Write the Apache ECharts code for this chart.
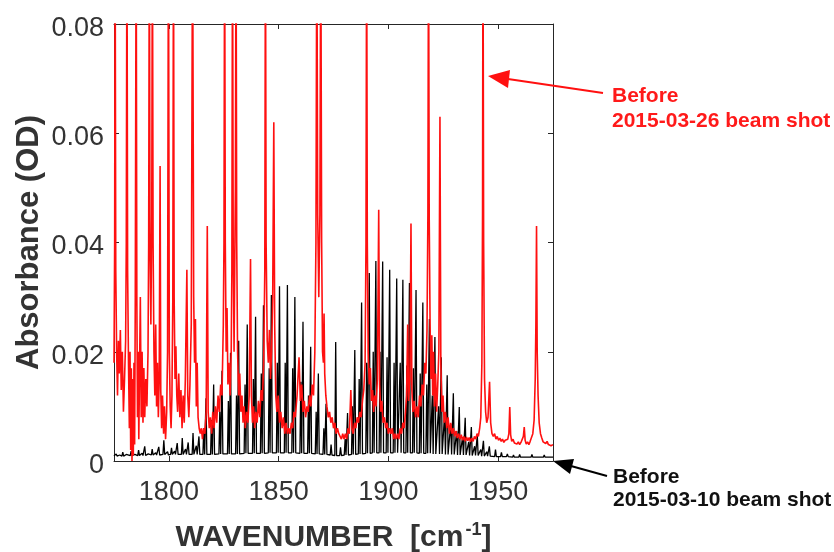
<!DOCTYPE html>
<html>
<head>
<meta charset="utf-8">
<script src="https://cdn.jsdelivr.net/npm/echarts@6/dist/echarts.min.js"></script>
<style>
  html, body { margin: 0; padding: 0; background: #fff; }
  #chart { width: 834px; height: 552px; }
</style>
</head>
<body>
<div id="chart"></div>
<script>
// Axis ticks
const xTicks = [1800, 1850, 1900, 1950];
const yTicks = [0, 0.02, 0.04, 0.06, 0.08];

// Earlier spectrum (2015-03-10): rotational lines as [wavenumber, peak, floor]
const blackLines = [
  [1775.4,0.0010,0.0009],[1776.0,0.0013,0.0009],[1777.6,0.0011,0.0009],[1779.0,0.0016,0.0009],
  [1780.6,0.0012,0.0009],[1782.8,0.0018,0.0010],[1784.5,0.0012,0.0009],[1786.2,0.0020,0.0010],
  [1787.8,0.0014,0.0010],[1789.0,0.0027,0.0010],[1790.6,0.0013,0.0010],[1792.4,0.0022,0.0011],
  [1794.0,0.0015,0.0011],[1795.4,0.0026,0.0011],[1797.7,0.0038,0.0012],[1799.4,0.0017,0.0011],
  [1801.2,0.0024,0.0012],[1802.6,0.0018,0.0012],[1803.8,0.0033,0.0012],[1806.1,0.0042,0.0012],
  [1807.6,0.0022,0.0012],[1808.8,0.0034,0.0012],[1811.0,0.0051,0.0012],[1812.5,0.0028,0.0012],
  [1813.7,0.0045,0.0012],[1815.9,0.0060,0.0012],[1816.9,0.0115,0.0012],[1819.4,0.0075,0.0012],
  [1820.4,0.0140,0.0012],[1823.2,0.0090,0.0013],[1824.2,0.0165,0.0013],[1827.1,0.0110,0.0013],
  [1828.1,0.0198,0.0013],[1830.8,0.0120,0.0013],[1831.8,0.0220,0.0013],[1834.7,0.0140,0.0014],
  [1835.7,0.0250,0.0014],[1838.5,0.0150,0.0014],[1839.5,0.0264,0.0014],[1842.1,0.0160,0.0014],
  [1843.1,0.0285,0.0014],[1845.7,0.0170,0.0015],[1846.7,0.0304,0.0015],[1849.4,0.0180,0.0015],
  [1850.4,0.0320,0.0015],[1853.0,0.0180,0.0015],[1854.0,0.0322,0.0015],[1856.4,0.0170,0.0015],
  [1857.4,0.0300,0.0015],[1860.1,0.0145,0.0014],[1861.1,0.0255,0.0014],[1863.6,0.0120,0.0014],
  [1864.6,0.0209,0.0014],[1867.1,0.0090,0.0013],[1868.1,0.0160,0.0013],[1870.6,0.0060,0.0012],
  [1871.6,0.0105,0.0012],[1873.9,0.0030,0.0011],[1876.0,0.0218,0.0010],[1878.2,0.0025,0.0010],
  [1880.3,0.0040,0.0011],[1881.4,0.0088,0.0011],[1883.6,0.0100,0.0012],[1884.7,0.0203,0.0012],
  [1886.7,0.0150,0.0013],[1887.8,0.0290,0.0013],[1890.1,0.0180,0.0014],[1891.3,0.0344,0.0014],
  [1893.1,0.0200,0.0015],[1894.3,0.0366,0.0015],[1896.2,0.0200,0.0015],[1897.4,0.0365,0.0015],
  [1899.4,0.0190,0.0015],[1900.6,0.0350,0.0015],[1902.6,0.0180,0.0015],[1903.8,0.0334,0.0015],
  [1905.4,0.0180,0.0015],[1906.6,0.0332,0.0015],[1908.4,0.0175,0.0015],[1909.6,0.0326,0.0015],
  [1911.4,0.0170,0.0015],[1912.6,0.0313,0.0015],[1914.5,0.0160,0.0014],[1915.7,0.0290,0.0014],
  [1917.5,0.0140,0.0014],[1918.7,0.0260,0.0014],[1920.0,0.0120,0.0013],[1921.2,0.0227,0.0013],
  [1922.9,0.0100,0.0013],[1924.1,0.0190,0.0013],[1925.6,0.0085,0.0012],[1926.8,0.0157,0.0012],
  [1928.4,0.0068,0.0012],[1929.6,0.0124,0.0012],[1931.1,0.0055,0.0011],[1932.3,0.0099,0.0011],
  [1933.8,0.0044,0.0011],[1935.0,0.0079,0.0011],[1936.6,0.0035,0.0010],[1937.8,0.0062,0.0010],
  [1939.3,0.0027,0.0010],[1940.5,0.0048,0.0010],[1942.1,0.0021,0.0009],[1943.3,0.0037,0.0009],
  [1944.8,0.0017,0.0009],[1946.0,0.0027,0.0009],[1948.8,0.0021,0.0008],[1951.5,0.0016,0.0008],
  [1954.2,0.0013,0.0008],[1957.0,0.0011,0.0007],[1959.8,0.0012,0.0007],[1962.6,0.0010,0.0007],
  [1965.4,0.0012,0.0007],[1968.2,0.0010,0.0007],[1971.0,0.0011,0.0007],[1973.8,0.0010,0.0007],
  [1974.6,0.0007,0.0007]
];

// Later spectrum (2015-03-26): trace as [wavenumber, absorbance]; strong water lines run off scale
const redTrace = [
  [1775.0,0.018],[1775.3,0.040],[1775.5,0.100],[1775.8,0.035],[1776.2,0.020],[1776.6,0.012],[1777.0,0.022],
  [1777.4,0.016],[1777.9,0.024],[1778.3,0.013],[1778.8,0.020],[1779.3,0.009],[1779.8,0.015],[1780.3,0.022],
  [1780.6,0.040],[1780.9,0.100],[1781.2,0.035],[1781.6,0.018],[1782.0,0.006],[1782.3,0.020],[1782.6,0.002],
  [1782.9,0.017],[1783.2,0.000],[1783.5,0.015],[1783.8,0.001],[1784.1,0.018],[1784.4,0.003],[1784.7,0.030],
  [1785.1,0.100],[1785.4,0.030],[1785.7,0.008],[1786.0,0.020],[1786.3,0.004],[1786.6,0.015],[1787.0,0.030],
  [1787.4,0.008],[1787.8,0.020],[1788.2,0.007],[1788.6,0.017],[1789.0,0.008],[1789.5,0.015],[1790.0,0.010],
  [1790.5,0.020],[1790.8,0.040],[1791.1,0.100],[1791.4,0.040],[1791.8,0.025],[1792.2,0.045],[1792.5,0.100],
  [1792.8,0.040],[1793.2,0.020],[1793.6,0.012],[1794.0,0.025],[1794.4,0.010],[1794.8,0.018],[1795.2,0.008],
  [1795.6,0.015],[1796.0,0.054],[1796.3,0.013],[1796.7,0.006],[1797.1,0.012],[1797.6,0.005],[1798.0,0.010],
  [1798.5,0.004],[1799.0,0.009],[1799.4,0.020],[1799.8,0.100],[1800.2,0.020],[1800.6,0.010],[1801.0,0.006],
  [1801.4,0.012],[1801.8,0.030],[1802.1,0.100],[1802.4,0.030],[1802.8,0.015],[1803.2,0.021],[1803.6,0.012],
  [1804.0,0.009],[1804.5,0.016],[1805.0,0.008],[1805.5,0.013],[1806.0,0.006],[1806.5,0.012],[1807.0,0.007],
  [1807.5,0.015],[1808.2,0.035],[1808.6,0.012],[1809.1,0.008],[1809.6,0.014],[1810.2,0.025],[1810.8,0.100],
  [1811.3,0.030],[1811.7,0.018],[1812.1,0.026],[1812.5,0.010],[1812.9,0.018],[1813.3,0.008],[1813.8,0.006],
  [1814.3,0.005],[1814.8,0.006],[1815.3,0.004],[1815.8,0.006],[1816.4,0.005],[1817.0,0.009],[1817.5,0.043],
  [1817.9,0.009],[1818.4,0.006],[1818.9,0.008],[1819.5,0.005],[1820.0,0.009],[1820.6,0.006],[1821.2,0.010],
  [1821.8,0.007],[1822.4,0.012],[1823.0,0.009],[1823.6,0.014],[1824.2,0.012],[1824.8,0.025],[1825.1,0.040],
  [1825.4,0.100],[1825.7,0.040],[1826.1,0.020],[1826.5,0.028],[1826.9,0.014],[1827.4,0.018],[1827.9,0.012],
  [1828.4,0.020],[1828.7,0.035],[1829.0,0.100],[1829.3,0.040],[1829.7,0.020],[1830.0,0.035],[1830.3,0.050],
  [1830.6,0.100],[1830.9,0.040],[1831.3,0.020],[1831.8,0.012],[1832.3,0.016],[1832.8,0.009],[1833.3,0.012],
  [1833.8,0.007],[1834.3,0.010],[1834.8,0.006],[1835.4,0.009],[1836.0,0.007],[1836.6,0.012],[1837.2,0.037],
  [1837.6,0.012],[1838.1,0.007],[1838.6,0.010],[1839.1,0.006],[1839.6,0.009],[1840.2,0.007],[1840.8,0.011],
  [1841.4,0.008],[1842.0,0.013],[1842.6,0.011],[1843.2,0.018],[1843.7,0.035],[1844.0,0.100],[1844.3,0.040],
  [1844.8,0.022],[1845.3,0.018],[1845.8,0.024],[1846.3,0.015],[1846.8,0.020],[1847.3,0.030],[1847.8,0.062],
  [1848.2,0.025],[1848.7,0.012],[1849.2,0.009],[1849.8,0.012],[1850.4,0.007],[1851.0,0.009],[1851.6,0.006],
  [1852.2,0.008],[1852.8,0.005],[1853.4,0.007],[1854.0,0.005],[1854.6,0.006],[1855.2,0.005],[1855.8,0.007],
  [1856.4,0.006],[1857.0,0.009],[1857.6,0.008],[1858.4,0.012],[1859.3,0.019],[1859.9,0.011],[1860.5,0.014],
  [1861.1,0.009],[1861.7,0.011],[1862.3,0.008],[1862.9,0.010],[1863.5,0.009],[1864.1,0.012],[1864.7,0.010],
  [1865.3,0.014],[1865.9,0.012],[1866.5,0.020],[1867.0,0.040],[1867.4,0.100],[1867.8,0.045],[1868.3,0.030],
  [1868.8,0.045],[1869.2,0.100],[1869.6,0.040],[1870.0,0.020],[1870.4,0.018],[1870.7,0.027],[1871.0,0.016],
  [1871.5,0.012],[1872.0,0.010],[1872.6,0.008],[1873.2,0.009],[1873.8,0.007],[1874.4,0.008],[1875.0,0.006],
  [1875.6,0.007],[1876.2,0.005],[1876.8,0.006],[1877.4,0.005],[1878.0,0.005],[1878.6,0.004],[1879.2,0.005],
  [1879.8,0.004],[1880.4,0.005],[1881.0,0.004],[1881.6,0.006],[1882.2,0.005],[1882.9,0.013],[1883.4,0.006],
  [1884.0,0.005],[1884.6,0.007],[1885.2,0.006],[1885.8,0.008],[1886.4,0.007],[1887.0,0.009],[1887.6,0.008],
  [1888.2,0.011],[1888.8,0.013],[1889.4,0.018],[1889.8,0.040],[1890.1,0.100],[1890.4,0.040],[1890.8,0.020],
  [1891.3,0.014],[1891.8,0.017],[1892.3,0.011],[1892.8,0.013],[1893.3,0.009],[1893.8,0.012],[1894.4,0.010],
  [1895.0,0.015],[1895.6,0.046],[1896.0,0.014],[1896.5,0.009],[1897.0,0.011],[1897.6,0.007],[1898.2,0.008],
  [1898.8,0.006],[1899.4,0.007],[1900.0,0.005],[1900.6,0.006],[1901.2,0.005],[1901.8,0.006],[1902.4,0.004],
  [1903.0,0.005],[1903.6,0.004],[1904.2,0.005],[1904.8,0.004],[1905.4,0.006],[1906.0,0.005],[1906.6,0.007],
  [1907.2,0.006],[1907.8,0.009],[1908.3,0.012],[1908.8,0.025],[1909.2,0.011],[1909.8,0.015],[1910.3,0.0435],
  [1910.7,0.013],[1911.2,0.009],[1911.8,0.011],[1912.4,0.008],[1913.0,0.010],[1913.6,0.008],[1914.2,0.012],
  [1914.8,0.010],[1915.4,0.014],[1916.0,0.012],[1916.6,0.018],[1917.1,0.016],[1917.6,0.024],[1918.0,0.045],
  [1918.3,0.100],[1918.6,0.045],[1919.0,0.025],[1919.4,0.015],[1919.8,0.023],[1920.2,0.012],[1920.6,0.020],
  [1921.0,0.010],[1921.5,0.016],[1922.0,0.009],[1922.5,0.014],[1923.0,0.020],[1923.5,0.063],[1923.9,0.018],
  [1924.4,0.009],[1924.9,0.012],[1925.4,0.007],[1926.0,0.009],[1926.6,0.006],[1927.2,0.008],[1927.8,0.005],
  [1928.4,0.007],[1929.0,0.005],[1929.6,0.006],[1930.2,0.0045],[1930.8,0.0055],[1931.4,0.0042],[1932.0,0.005],
  [1932.6,0.004],[1933.2,0.0048],[1933.8,0.0038],[1934.4,0.0045],[1935.0,0.0036],[1935.6,0.0044],[1936.2,0.0037],
  [1936.8,0.0043],[1937.4,0.0035],[1938.0,0.0042],[1938.6,0.0036],[1939.2,0.0045],[1939.8,0.004],[1940.4,0.005],
  [1941.0,0.0045],[1941.6,0.006],[1942.1,0.008],[1942.6,0.018],[1942.9,0.045],[1943.1,0.100],[1943.4,0.040],
  [1943.8,0.015],[1944.3,0.009],[1944.8,0.007],[1945.4,0.008],[1946.1,0.0145],[1946.6,0.007],[1947.2,0.005],
  [1947.8,0.0045],[1948.4,0.005],[1949.0,0.004],[1949.6,0.0045],[1950.2,0.0038],[1950.8,0.0042],[1951.4,0.0036],
  [1952.0,0.004],[1952.6,0.0034],[1953.2,0.0038],[1953.8,0.0035],[1954.4,0.004],[1954.9,0.005],[1955.3,0.0099],
  [1955.7,0.0048],[1956.2,0.0036],[1956.8,0.004],[1957.4,0.0033],[1958.0,0.0036],[1958.6,0.0031],[1959.2,0.0035],
  [1959.8,0.003],[1960.4,0.0034],[1961.0,0.0032],[1961.5,0.0045],[1961.9,0.0062],[1962.3,0.0038],[1962.8,0.0031],
  [1963.4,0.0035],[1964.0,0.003],[1964.6,0.0036],[1965.2,0.0038],[1965.8,0.005],[1966.4,0.0075],[1966.9,0.015],
  [1967.2,0.025],[1967.5,0.043],[1967.8,0.020],[1968.2,0.012],[1968.7,0.007],[1969.3,0.005],[1969.9,0.0042],
  [1970.5,0.0035],[1971.1,0.0038],[1971.7,0.0032],[1972.3,0.0036],[1972.9,0.003],[1973.5,0.0033],[1974.1,0.0028],
  [1974.7,0.0031],[1975.0,0.003]
];

// Each narrow line is drawn as a spike rising from its local floor
const LINE_HALF_WIDTH = 0.4;
const blackTrace = [];
blackLines.forEach(([c, peak, floor]) => {
  blackTrace.push([c - LINE_HALF_WIDTH, floor], [c, peak], [c + LINE_HALF_WIDTH, floor]);
});

const FONT = '"Liberation Sans", Arial, Helvetica, sans-serif';
const AXIS_COLOR = '#262626';
const LABEL_COLOR = '#333333';

const chart = echarts.init(document.getElementById('chart'), null, { renderer: 'canvas' });

const frameX = (position, showLabels) => ({
  type: 'value', min: 1775, max: 1975, position,
  axisLine: { show: true, onZero: false, lineStyle: { color: AXIS_COLOR, width: 1 } },
  axisTick: { show: true, inside: true, length: 5, customValues: xTicks, lineStyle: { color: AXIS_COLOR } },
  axisLabel: {
    show: showLabels, customValues: xTicks, fontSize: 27, color: LABEL_COLOR, fontFamily: FONT, margin: 18,
    formatter: v => String(Math.round(v))
  },
  splitLine: { show: false }
});
const frameY = (position, showLabels) => ({
  type: 'value', min: 0, max: 0.08, interval: 0.02, position,
  axisLine: { show: true, onZero: false, lineStyle: { color: AXIS_COLOR, width: 1 } },
  axisTick: { show: true, inside: true, length: 5, lineStyle: { color: AXIS_COLOR } },
  axisLabel: {
    show: showLabels, margin: 10,
    formatter: v => {
      const t = yTicks.find(k => Math.abs(k - v) < 1e-9);
      if (t === undefined) return '';
      return '{v|' + (t === 0 ? '0' : t.toFixed(2)) + '}';
    },
    rich: { v: { fontSize: 27, color: LABEL_COLOR, fontFamily: FONT, padding: [9, 0, 0, 0] } }
  },
  splitLine: { show: false }
});

const xBottom = frameX('bottom', true);
xBottom.name = '{t|WAVENUMBER  [cm}{s|-1}{t|]}';
xBottom.nameLocation = 'middle';
xBottom.nameGap = 60;
xBottom.nameMoveOverlap = false;
xBottom.nameTextStyle = {
  rich: {
    t: { fontSize: 30, fontWeight: 'bold', color: LABEL_COLOR, fontFamily: FONT, lineHeight: 34 },
    s: { fontSize: 18, fontWeight: 'bold', color: LABEL_COLOR, fontFamily: FONT, verticalAlign: 'top', lineHeight: 18, padding: [0, 0, 0, 2] }
  }
};

const yLeft = frameY('left', true);
yLeft.name = 'Absorbance (OD)';
yLeft.nameLocation = 'middle';
yLeft.nameGap = 69;
yLeft.nameRotate = 90;
yLeft.nameMoveOverlap = false;
yLeft.nameTextStyle = { fontSize: 31, fontWeight: 'bold', color: LABEL_COLOR, fontFamily: FONT };

const option = {
  animation: false,
  backgroundColor: '#ffffff',
  grid: { left: 114, right: 281, top: 24, bottom: 91, containLabel: false, outerBoundsMode: 'none' },
  xAxis: [xBottom, frameX('top', false)],
  yAxis: [yLeft, frameY('right', false)],
  series: [
    {
      name: 'Before 2015-03-10 beam shot', type: 'line', data: blackTrace,
      showSymbol: false, symbol: 'none', clip: true, z: 2,
      lineStyle: { color: '#000000', width: 1.3 }
    },
    {
      name: 'Before 2015-03-26 beam shot', type: 'line', data: redTrace,
      showSymbol: false, symbol: 'none', clip: true, z: 3,
      lineStyle: { color: '#ff1010', width: 1.6 }
    }
  ],
  graphic: [
    // annotation for the later spectrum
    { type: 'line', shape: { x1: 603, y1: 93, x2: 508, y2: 79 }, style: { stroke: '#ff1010', lineWidth: 2 }, z: 10 },
    { type: 'polygon', shape: { points: [[488, 76], [510, 70], [508, 88]] }, style: { fill: '#ff1010' }, z: 10 },
    { type: 'text', x: 612, y: 96, style: { text: 'Before', fill: '#ff1a1a', font: 'bold 21px ' + FONT, verticalAlign: 'middle' }, z: 10 },
    { type: 'text', x: 612, y: 121, style: { text: '2015-03-26 beam shot', fill: '#ff1a1a', font: 'bold 21px ' + FONT, verticalAlign: 'middle' }, z: 10 },
    // annotation for the earlier spectrum
    { type: 'line', shape: { x1: 607, y1: 476, x2: 571, y2: 466 }, style: { stroke: '#000000', lineWidth: 2 }, z: 10 },
    { type: 'polygon', shape: { points: [[553, 461], [574, 459], [570, 474]] }, style: { fill: '#000000' }, z: 10 },
    { type: 'text', x: 613, y: 477, style: { text: 'Before', fill: '#111111', font: 'bold 21px ' + FONT, verticalAlign: 'middle' }, z: 10 },
    { type: 'text', x: 613, y: 500, style: { text: '2015-03-10 beam shot', fill: '#111111', font: 'bold 21px ' + FONT, verticalAlign: 'middle' }, z: 10 }
  ]
};

chart.setOption(option);
</script>
</body>
</html>
